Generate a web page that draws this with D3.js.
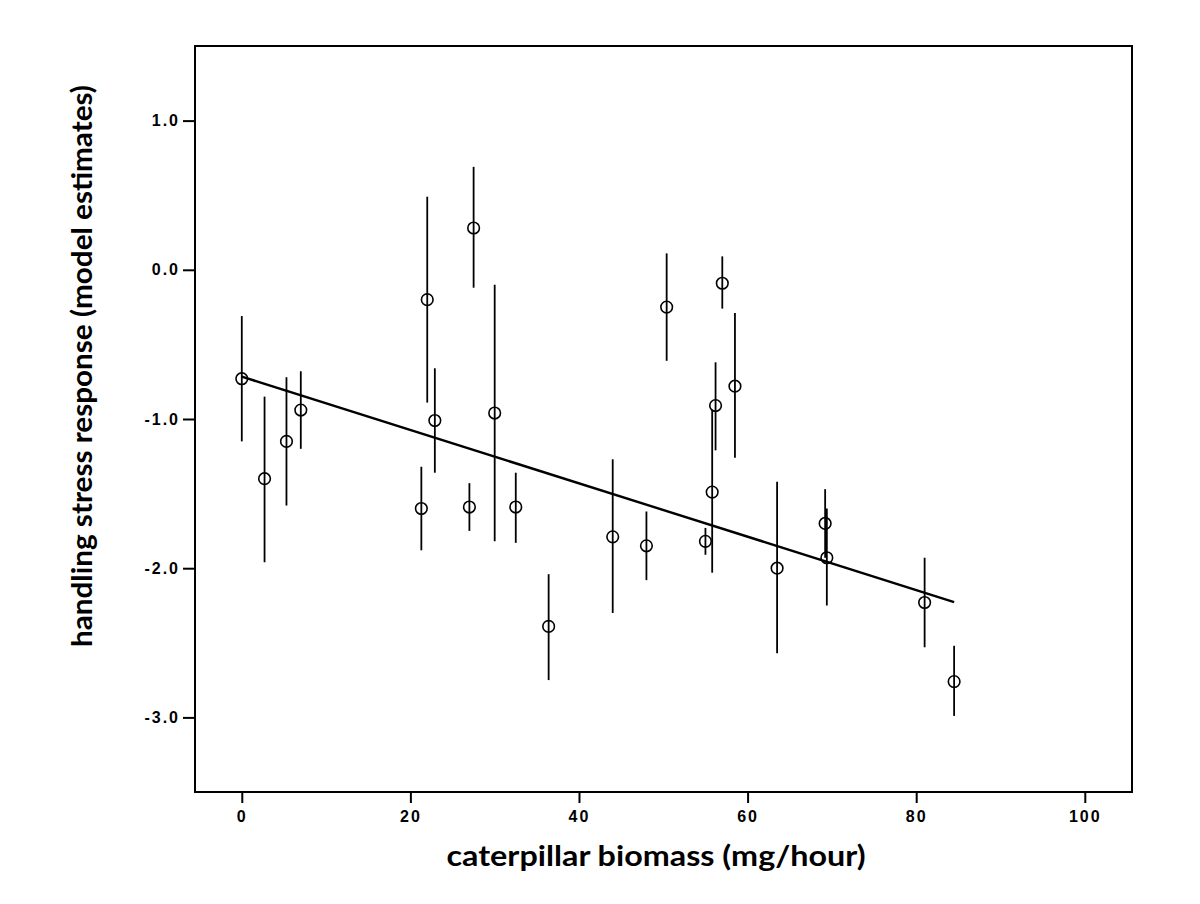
<!DOCTYPE html>
<html>
<head>
<meta charset="utf-8">
<script src="https://cdn.jsdelivr.net/npm/d3@7"></script>
<style>
  body { margin: 0; background: #fff; }
  .title { font-family: Lato, "Open Sans", sans-serif; font-weight: bold; font-size: 29px; }
</style>
</head>
<body>
<div id="chart"></div>
<script>
// caterpillar biomass (mg/hour) vs model estimate, with interval
const biomass  = [0, 2.7, 5.3, 7.0, 22.0, 27.5, 22.9, 30.0, 21.3, 27.0, 32.5, 36.4, 50.4, 57.0, 58.5, 56.2, 55.8, 44.0, 48.0, 55.0, 63.5, 69.2, 69.4, 81.0, 84.5];
const estimate = [-0.73, -1.40, -1.15, -0.94, -0.20, 0.28, -1.01, -0.96, -1.60, -1.59, -1.59, -2.39, -0.25, -0.09, -0.78, -0.91, -1.49, -1.79, -1.85, -1.82, -2.00, -1.70, -1.93, -2.23, -2.76];
const upper    = [-0.31, -0.85, -0.72, -0.68, 0.49, 0.69, -0.66, -0.10, -1.32, -1.43, -1.36, -2.04, 0.11, 0.09, -0.29, -0.62, -0.94, -1.27, -1.62, -1.73, -1.42, -1.47, -1.60, -1.93, -2.52];
const lower    = [-1.15, -1.96, -1.58, -1.20, -0.89, -0.12, -1.36, -1.82, -1.88, -1.75, -1.83, -2.75, -0.61, -0.26, -1.26, -1.21, -2.03, -2.30, -2.08, -1.91, -2.57, -1.93, -2.25, -2.53, -2.99];
const fitIntercept = -0.716;
const fitSlope = -0.01788;
const xTicks = [0, 20, 40, 60, 80, 100];
const yTicks = [1, 0, -1, -2, -3];

const width = 1200, height = 904;
const margin = { top: 46, right: 68, bottom: 112, left: 195 };

const svg = d3.select('#chart').append('svg')
  .attr('width', width)
  .attr('height', height);

const x = d3.scaleLinear().domain([-5.55, 105.6]).range([margin.left, width - margin.right]);
const y = d3.scaleLinear().domain([-3.5, 1.5]).range([height - margin.bottom, margin.top]);

const points = biomass.map((b, i) => ({ x: b, y: estimate[i], hi: upper[i], lo: lower[i] }));

// frame
svg.append('rect')
  .attr('x', margin.left)
  .attr('y', margin.top)
  .attr('width', width - margin.left - margin.right)
  .attr('height', height - margin.top - margin.bottom)
  .attr('fill', 'none')
  .attr('stroke', '#000')
  .attr('stroke-width', 2);

// axes
const xAxis = svg.append('g')
  .attr('transform', `translate(0, ${height - margin.bottom})`)
  .call(d3.axisBottom(x).tickValues(xTicks).tickFormat(d => String(d)).tickSize(11).tickPadding(8));

const yAxis = svg.append('g')
  .attr('transform', `translate(${margin.left}, 0)`)
  .call(d3.axisLeft(y).tickValues(yTicks).tickFormat(d => d.toFixed(1)).tickSize(12).tickPadding(3));

[xAxis, yAxis].forEach(ax => {
  ax.select('.domain').remove();
  ax.selectAll('.tick line').attr('stroke', '#000').attr('stroke-width', 2);
  ax.selectAll('.tick text')
    .attr('fill', '#000')
    .style('font-family', '"Liberation Sans", Arial, sans-serif')
    .style('font-weight', 'bold')
    .style('font-size', '16px')
    .style('letter-spacing', '2px');
});

// error bars
svg.selectAll('.err')
  .data(points)
  .enter()
  .append('line')
  .attr('class', 'err')
  .attr('x1', d => x(d.x))
  .attr('x2', d => x(d.x))
  .attr('y1', d => y(d.hi))
  .attr('y2', d => y(d.lo))
  .attr('stroke', '#000')
  .attr('stroke-width', 1.8);

// fit line
const xr = d3.extent(biomass);
svg.append('line')
  .attr('x1', x(xr[0]))
  .attr('y1', y(fitIntercept + fitSlope * xr[0]))
  .attr('x2', x(xr[1]))
  .attr('y2', y(fitIntercept + fitSlope * xr[1]))
  .attr('stroke', '#000')
  .attr('stroke-width', 2.4);

// points
svg.selectAll('.pt')
  .data(points)
  .enter()
  .append('circle')
  .attr('class', 'pt')
  .attr('cx', d => x(d.x))
  .attr('cy', d => y(d.y))
  .attr('r', 5.8)
  .attr('fill', 'none')
  .attr('stroke', '#000')
  .attr('stroke-width', 1.6);

// titles
svg.append('text')
  .attr('class', 'title')
  .attr('x', 656)
  .attr('y', 866)
  .attr('text-anchor', 'middle')
  .attr('textLength', 419)
  .attr('lengthAdjust', 'spacingAndGlyphs')
  .text('caterpillar biomass (mg/hour)');

svg.append('text')
  .attr('class', 'title')
  .attr('transform', 'translate(92, 366) rotate(-90)')
  .attr('text-anchor', 'middle')
  .attr('textLength', 562)
  .attr('lengthAdjust', 'spacingAndGlyphs')
  .text('handling stress response (model estimates)');
</script>
</body>
</html>
